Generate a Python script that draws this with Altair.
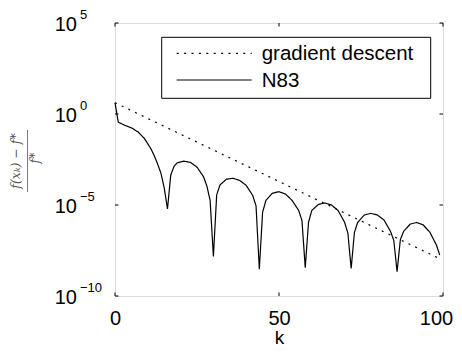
import altair as alt
import pandas as pd

# N83 curve: iteration k and log10 of relative error
k_n83 = [0, 1, 3, 5, 7, 9, 11, 12, 13, 14, 15, 16, 17, 18, 19, 21, 23, 25, 27, 28,
         29, 30, 31, 32, 34, 36, 38, 40, 42, 43, 44, 45, 46, 48, 50, 52, 54, 56, 57, 58,
         59, 60, 62, 64, 66, 68, 70, 71, 72, 73, 74, 76, 78, 80, 82, 84, 85, 86, 87, 88,
         90, 92, 94, 96, 98, 99]
log_n83 = [0.62, -0.45, -0.62, -0.76, -0.98, -1.35, -1.93, -2.3, -2.75, -3.25, -4.05, -5.22, -3.35, -2.88, -2.68, -2.59, -2.66, -2.92, -3.45, -3.95,
           -4.75, -7.83, -4.45, -3.9, -3.58, -3.53, -3.65, -3.92, -4.48, -5.05, -8.53, -5.4, -4.75, -4.35, -4.27, -4.4, -4.75, -5.3, -5.85, -8.44,
           -5.95, -5.3, -4.97, -4.89, -5.0, -5.3, -5.95, -6.55, -8.49, -6.5, -5.95, -5.55, -5.46, -5.55, -5.82, -6.45, -6.95, -8.66, -6.9, -6.45,
           -6.05, -5.96, -6.1, -6.5, -7.2, -7.75]

# gradient descent: straight line on the log axis
k_gd = [0, 99]
log_gd = [0.62, -7.95]

series_names = ["gradient descent", "N83"]
series_dash = [[2, 5.4], [1, 0]]
x_ticks = [0, 50, 100]
y_ticks = [1e-10, 1e-5, 1e0, 1e5]
y_exps = ["\u221210", "\u22125", "0", "5"]

W, H = 328, 273
FONT = "Liberation Sans"

rows = []
for k, v in zip(k_gd, log_gd):
    rows.append({"k": k, "val": 10 ** v, "series": series_names[0]})
for k, v in zip(k_n83, log_n83):
    rows.append({"k": k, "val": 10 ** v, "series": series_names[1]})
lines_df = pd.DataFrame(rows)

xscale = alt.Scale(domain=[0, 100], nice=False, zero=False)
yscale = alt.Scale(type="log", domain=[1e-10, 1e5], nice=False)

lines = alt.Chart(lines_df).mark_line(color="black", strokeWidth=1.2).encode(
    x=alt.X("k:Q", scale=xscale,
            axis=alt.Axis(values=x_ticks, title="k", grid=False, domain=False, ticks=False,
                          tickSize=0, labelFont=FONT, labelFontSize=20, labelColor="black",
                          labelPadding=12, titleFont=FONT, titleFontSize=19,
                          titleFontWeight="normal", titleColor="black", titlePadding=0,
                          labelFlush=False,
                          labelOffset={"condition": {"test": "datum.value == 100", "value": -7},
                                       "value": 0})),
    y=alt.Y("val:Q", scale=yscale, axis=None),
    strokeDash=alt.StrokeDash("series:N",
                              scale=alt.Scale(domain=series_names, range=series_dash),
                              legend=None),
    order="k:Q",
)

ytick_df = pd.DataFrame({"v": y_ticks, "e": y_exps})
xtick_df = pd.DataFrame({"k": x_ticks})

ten_labels = alt.Chart(ytick_df).mark_text(
    align="right", baseline="middle", font=FONT, fontSize=20, color="black", dy=2
).encode(y=alt.Y("v:Q", scale=yscale), x=alt.value(-38), text=alt.value("10"))

exp_labels = alt.Chart(ytick_df).mark_text(
    align="left", baseline="middle", font=FONT, fontSize=13, color="black", dy=-8.5
).encode(y=alt.Y("v:Q", scale=yscale), x=alt.value(-35), text="e:N")

ytick_left = alt.Chart(ytick_df).mark_rule(color="black", strokeWidth=1).encode(
    y=alt.Y("v:Q", scale=yscale), x=alt.value(0), x2=alt.value(3.5))
ytick_right = alt.Chart(ytick_df).mark_rule(color="black", strokeWidth=1).encode(
    y=alt.Y("v:Q", scale=yscale), x=alt.value(W - 3.5), x2=alt.value(W))
xtick_bot = alt.Chart(xtick_df).mark_rule(color="black", strokeWidth=1).encode(
    x=alt.X("k:Q", scale=xscale), y=alt.value(H), y2=alt.value(H - 3.5))
xtick_top = alt.Chart(xtick_df).mark_rule(color="black", strokeWidth=1).encode(
    x=alt.X("k:Q", scale=xscale), y=alt.value(0), y2=alt.value(3.5))

# y-axis title as a fraction
one = pd.DataFrame({"a": [0]})
num = alt.Chart(one).mark_text(
    angle=270, align="center", baseline="middle", font="DejaVu Serif", fontStyle="italic",
    fontSize=12.5, color="#555555"
).encode(x=alt.value(-99), y=alt.value(138), text=alt.value("f(x\u2096) \u2212 f*"))
den = alt.Chart(one).mark_text(
    angle=270, align="center", baseline="middle", font="DejaVu Serif", fontStyle="italic",
    fontSize=12.5, color="#555555"
).encode(x=alt.value(-80.5), y=alt.value(135), text=alt.value("f*"))
bar = alt.Chart(one).mark_rule(color="#555555", strokeWidth=0.8).encode(
    x=alt.value(-87.5), y=alt.value(107), y2=alt.value(169))

# legend box
LX0, LX1, LY0, LY1 = 46.7, 315.7, 14.3, 75.3
ROW_Y = [30.3, 57.0]
SYM_X0, SYM_X1, TXT_X = 61.7, 136.7, 146.7

legend_box = alt.Chart(one).mark_rect(fill="white", stroke="black", strokeWidth=1).encode(
    x=alt.value(LX0), x2=alt.value(LX1), y=alt.value(LY0), y2=alt.value(LY1))
legend_layers = [legend_box]
for name, dash, ry in zip(series_names, series_dash, ROW_Y):
    legend_layers.append(
        alt.Chart(one).mark_rule(color="black", strokeWidth=1.2, strokeDash=dash).encode(
            x=alt.value(SYM_X0), x2=alt.value(SYM_X1), y=alt.value(ry)))
    legend_layers.append(
        alt.Chart(one).mark_text(align="left", baseline="middle", font=FONT, fontSize=20.5,
                                 color="black", dy=1).encode(
            x=alt.value(TXT_X), y=alt.value(ry), text=alt.value(name)))

chart = alt.layer(
    lines, ten_labels, exp_labels, ytick_left, ytick_right, xtick_bot, xtick_top,
    num, den, bar, *legend_layers
).properties(
    width=W, height=H,
    autosize=alt.AutoSizeParams(type="none"),
    padding={"left": 107, "top": 15, "right": 11, "bottom": 52},
).configure_view(stroke="black", strokeWidth=1.2).configure(background="white")

chart.save("out.html", embed_options={"renderer": "svg", "actions": False})
